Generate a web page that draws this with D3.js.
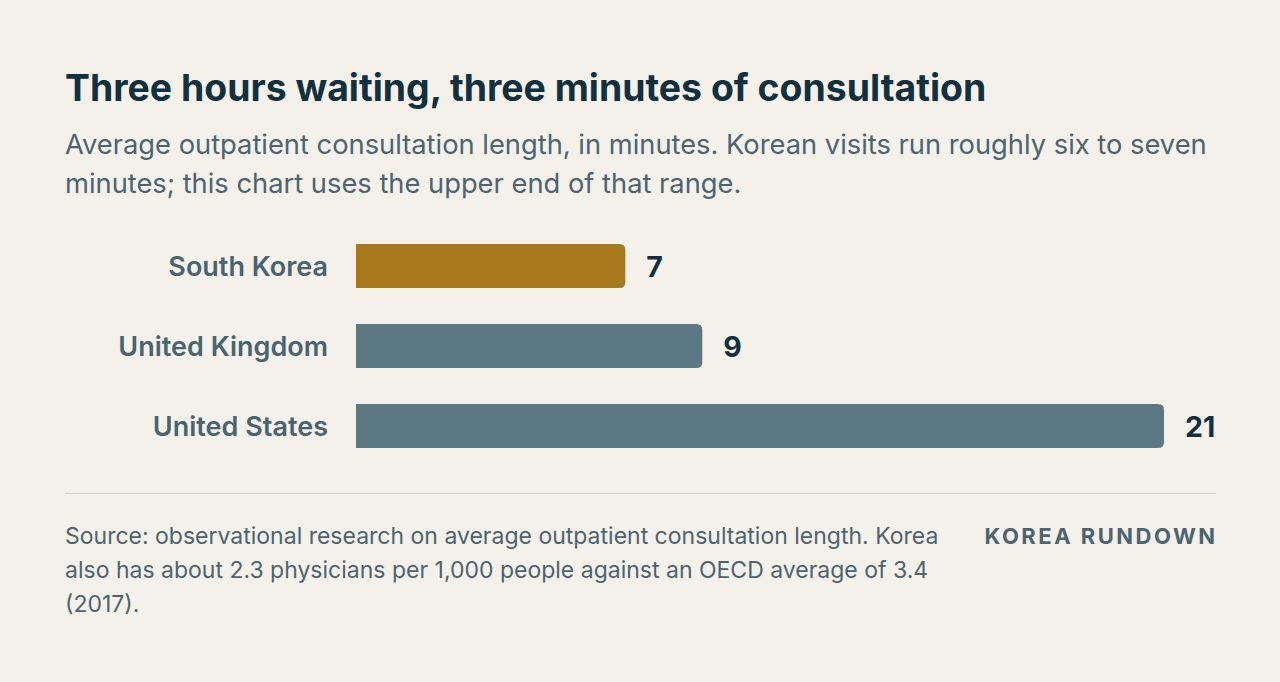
<!DOCTYPE html>
<html>
<head>
<meta charset="utf-8">
<script src="https://cdn.jsdelivr.net/npm/d3@7"></script>
<style>
  html, body { margin: 0; padding: 0; background: #f4f1ea; }
  svg { display: block; font-family: Inter, "Noto Sans", sans-serif; }
</style>
</head>
<body>
<div id="chart"></div>
<script>
// chart data
var countries = ["South Korea", "United Kingdom", "United States"];
var minutes = [7, 9, 21];
var highlight = ["South Korea"];

var titleText = "Three hours waiting, three minutes of consultation";
var subtitleLines = [
    "Average outpatient consultation length, in minutes. Korean visits run roughly six to seven",
    "minutes; this chart uses the upper end of that range."
];
var sourceLines = [
    "Source: observational research on average outpatient consultation length. Korea",
    "also has about 2.3 physicians per 1,000 people against an OECD average of 3.4",
    "(2017)."
];
var brand = "KOREA RUNDOWN";

var width = 1280, height = 682;
var left = 65, right = 1216;

var svg = d3.select("#chart")
    .append("svg")
    .attr("width", width)
    .attr("height", height);

svg.append("rect")
    .attr("width", width)
    .attr("height", height)
    .attr("fill", "#f4f1ea");

// heading
svg.append("text")
    .attr("x", left)
    .attr("y", 101)
    .attr("font-size", 37.4)
    .attr("font-weight", 700)
    .attr("fill", "#12303d")
    .text(titleText);

svg.selectAll(".sub")
    .data(subtitleLines)
    .enter()
    .append("text")
    .attr("class", "sub")
    .attr("x", left)
    .attr("y", function(d, i) { return 154 + i * 39; })
    .attr("font-size", 27.3)
    .attr("fill", "#4d6470")
    .text(function(d) { return d; });

// scales
var x = d3.scaleLinear()
    .domain([0, d3.max(minutes)])
    .range([356, 1164]);

var y = d3.scaleBand()
    .domain(countries)
    .range([226, 466])
    .paddingInner(0.45)
    .paddingOuter(0.225);

var r = 6;
function barPath(d, i) {
    var x0 = x(0), x1 = x(minutes[i]);
    var y0 = y(d), h = y.bandwidth();
    return "M" + x0 + "," + y0 +
        "H" + (x1 - r) +
        "Q" + x1 + "," + y0 + " " + x1 + "," + (y0 + r) +
        "V" + (y0 + h - r) +
        "Q" + x1 + "," + (y0 + h) + " " + (x1 - r) + "," + (y0 + h) +
        "H" + x0 + "Z";
}

var rows = svg.selectAll(".row")
    .data(countries)
    .enter()
    .append("g")
    .attr("class", "row");

rows.append("path")
    .attr("d", barPath)
    .attr("fill", function(d) { return highlight.indexOf(d) >= 0 ? "#a87a1d" : "#5c7883"; });

rows.append("text")
    .attr("x", 328)
    .attr("y", function(d) { return y(d) + y.bandwidth() / 2; })
    .attr("dy", "0.36em")
    .attr("text-anchor", "end")
    .attr("font-size", 27)
    .attr("font-weight", 600)
    .attr("fill", "#4a6370")
    .text(function(d) { return d; });

rows.append("text")
    .attr("x", function(d, i) { return x(minutes[i]) + 21; })
    .attr("y", function(d) { return y(d) + y.bandwidth() / 2; })
    .attr("dy", "0.37em")
    .attr("font-size", 28.5)
    .attr("font-weight", 700)
    .attr("fill", "#12303d")
    .text(function(d, i) { return minutes[i]; });

// footer
svg.append("line")
    .attr("x1", left)
    .attr("x2", right)
    .attr("y1", 493.5)
    .attr("y2", 493.5)
    .attr("stroke", "#ddd8cd")
    .attr("stroke-width", 1.5);

svg.selectAll(".src")
    .data(sourceLines)
    .enter()
    .append("text")
    .attr("class", "src")
    .attr("x", left)
    .attr("y", function(d, i) { return 544 + i * 34; })
    .attr("font-size", 23)
    .attr("fill", "#4d6470")
    .text(function(d) { return d; });

svg.append("text")
    .attr("x", 1217.5)
    .attr("y", 544)
    .attr("text-anchor", "end")
    .attr("font-size", 22)
    .attr("font-weight", 700)
    .attr("letter-spacing", "2.5")
    .attr("fill", "#4d6470")
    .text(brand);
</script>
</body>
</html>
